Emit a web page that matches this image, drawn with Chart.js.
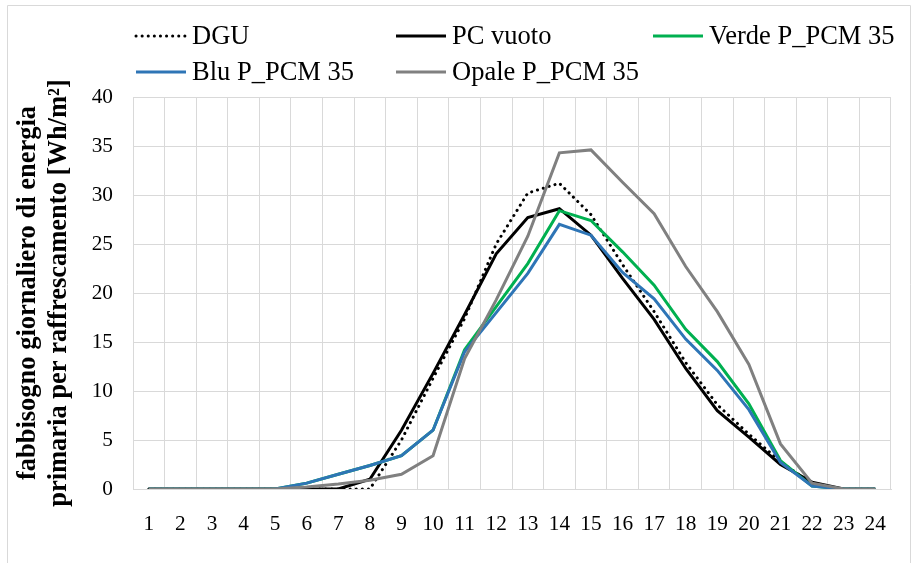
<!DOCTYPE html>
<html>
<head>
<meta charset="utf-8">
<script src="https://cdn.jsdelivr.net/npm/chart.js@4"></script>
<style>
    body { margin: 0; background: #fff; }
    #wrap { position: relative; width: 913px; height: 563px; }
</style>
</head>
<body>
<div id="wrap"><canvas id="energyChart" width="913" height="563"></canvas></div>
<script>
// Hours of the day
const hours = ['1', '2', '3', '4', '5', '6', '7', '8', '9', '10', '11', '12',
    '13', '14', '15', '16', '17', '18', '19', '20', '21', '22', '23', '24'];

// Primary energy for cooling [Wh/m2]
const dgu = [0, 0, 0, 0, 0, 0, 0, 0, 5.0, 11.3, 17.4, 25.0, 30.2, 31.2, 28.0, 22.9, 18.1, 12.9, 8.6, 5.6, 2.8, 0.5, 0, 0];
const pcVuoto = [0, 0, 0, 0, 0, 0, 0, 1.0, 6.0, 11.8, 17.8, 24.0, 27.7, 28.6, 25.9, 21.5, 17.3, 12.3, 8.0, 5.3, 2.5, 0.7, 0, 0];
const verde = [0, 0, 0, 0, 0, 0.6, 1.5, 2.4, 3.4, 6.0, 14.2, 18.6, 23.0, 28.4, 27.4, 24.2, 20.8, 16.3, 13.0, 8.7, 2.9, 0.3, 0, 0];
const blu = [0, 0, 0, 0, 0, 0.6, 1.5, 2.4, 3.4, 6.0, 14.0, 18.0, 22.0, 27.0, 25.9, 22.1, 19.4, 15.3, 12.1, 8.1, 2.7, 0.3, 0, 0];
const opale = [0, 0, 0, 0, 0, 0.2, 0.5, 0.9, 1.5, 3.4, 13.3, 19.3, 25.8, 34.3, 34.6, 31.3, 28.1, 22.7, 18.1, 12.7, 4.6, 0.6, 0, 0];

const yTicks = { min: 0, max: 40, step: 5 };
const yTitle = ['fabbisogno giornaliero di energia', 'primaria per raffrescamento [Wh/m\u00B2]'];

const serif = "'Liberation Serif', 'Times New Roman', serif";

// where each legend entry sits (col x, row y)
const legendSlots = [
    { x: 136, y: 36 }, { x: 396, y: 36 }, { x: 653, y: 36 },
    { x: 136, y: 72 }, { x: 396, y: 72 }
];

const legendPlugin = {
    id: 'excelLegend',
    beforeDraw(chart) {
        // light chart-area frame like the Excel export
        const c = chart.ctx;
        c.save();
        c.strokeStyle = '#D9D9D9';
        c.lineWidth = 1;
        c.beginPath();
        c.moveTo(7.5, 600);
        c.lineTo(7.5, 5.5);
        c.lineTo(910.5, 5.5);
        c.lineTo(910.5, 600);
        c.stroke();
        c.restore();
    },
    afterDraw(chart) {
        const c = chart.ctx;
        c.save();
        c.font = '26.5px ' + serif;
        c.textBaseline = 'middle';
        c.fillStyle = '#000';
        chart.data.datasets.forEach((ds, i) => {
            const s = legendSlots[i];
            c.beginPath();
            c.strokeStyle = ds.borderColor;
            c.lineWidth = ds.borderWidth;
            c.lineCap = ds.borderCapStyle || 'butt';
            c.setLineDash(ds.borderDash || []);
            c.moveTo(s.x, s.y);
            c.lineTo(s.x + 50, s.y);
            c.stroke();
            c.setLineDash([]);
            c.fillText(ds.label, s.x + 56, s.y + 1);
        });
        c.restore();
    }
};

const lineDefaults = { borderWidth: 3, pointRadius: 0, tension: 0, fill: false };

const data = {
    labels: hours,
    datasets: [
        { ...lineDefaults, label: 'DGU', data: dgu, borderColor: '#000000', borderDash: [0.1, 6], borderCapStyle: 'round', order: 5 },
        { ...lineDefaults, label: 'PC vuoto', data: pcVuoto, borderColor: '#000000', order: 4 },
        { ...lineDefaults, label: 'Verde P_PCM 35', data: verde, borderColor: '#00B050', order: 3 },
        { ...lineDefaults, label: 'Blu P_PCM 35', data: blu, borderColor: '#2E75B6', order: 2 },
        { ...lineDefaults, label: 'Opale P_PCM 35', data: opale, borderColor: '#808080', order: 1 }
    ]
};

const config = {
    type: 'line',
    data: data,
    plugins: [legendPlugin],
    options: {
        responsive: false,
        animation: false,
        layout: { padding: { top: 97, right: 22, left: 0, bottom: 0 } },
        plugins: {
            legend: { display: false },
            tooltip: { enabled: false }
        },
        scales: {
            x: {
                offset: true,
                grid: { offset: true, color: '#D9D9D9', lineWidth: 1, drawTicks: false },
                border: { color: '#D9D9D9' },
                ticks: {
                    color: '#000',
                    padding: 23,
                    maxRotation: 0,
                    autoSkip: false,
                    font: { family: serif, size: 21.3 }
                },
                afterFit(scale) { scale.height = 74; }
            },
            y: {
                min: yTicks.min,
                max: yTicks.max,
                grid: { color: '#D9D9D9', lineWidth: 1, drawTicks: false },
                border: { color: '#D9D9D9' },
                ticks: {
                    stepSize: yTicks.step,
                    color: '#000',
                    padding: 20,
                    font: { family: serif, size: 21.3 }
                },
                title: {
                    display: true,
                    text: yTitle,
                    color: '#000',
                    padding: { top: 13, bottom: 0 },
                    font: { family: serif, size: 26.5, weight: 'bold', lineHeight: 1.17 }
                },
                afterFit(scale) { scale.width = 133; }
            }
        }
    }
};

const energyChart = new Chart(document.getElementById('energyChart').getContext('2d'), config);
</script>
</body>
</html>
